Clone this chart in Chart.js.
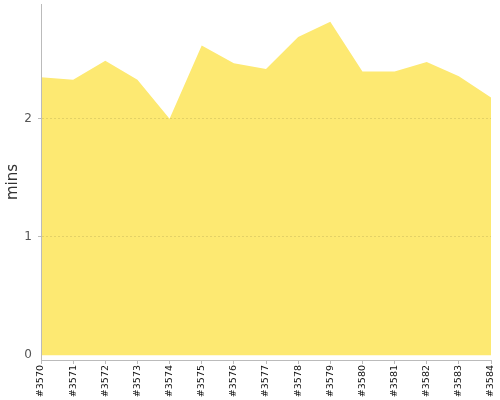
<!DOCTYPE html>
<html>
<head>
<meta charset="utf-8">
<script src="https://cdn.jsdelivr.net/npm/chart.js@4"></script>
<style>
  html, body { margin: 0; padding: 0; background: #fff; }
  #wrap { width: 500px; height: 400px; }
</style>
</head>
<body>
<div id="wrap"><canvas id="myChart"></canvas></div>
<script>
var builds = ['#3570', '#3571', '#3572', '#3573', '#3574', '#3575', '#3576', '#3577',
              '#3578', '#3579', '#3580', '#3581', '#3582', '#3583', '#3584'];
var durations = [2.35, 2.33, 2.49, 2.33, 2.00, 2.62, 2.47, 2.42,
                 2.69, 2.82, 2.40, 2.40, 2.48, 2.36, 2.18];
var yTicks = [0, 1, 2];

Chart.defaults.font.family = "'DejaVu Sans', sans-serif";

var ctx = document.getElementById('myChart').getContext('2d');
var myChart = new Chart(ctx, {
  type: 'line',
  data: {
    labels: builds,
    datasets: [{
      label: 'Duration',
      data: durations,
      fill: 'origin',
      backgroundColor: '#fde972',
      borderWidth: 0,
      pointRadius: 0,
      tension: 0
    }]
  },
  options: {
    responsive: true,
    maintainAspectRatio: false,
    animation: false,
    layout: { padding: { top: 4, right: 9, left: 0, bottom: 0 } },
    plugins: {
      legend: { display: false },
      tooltip: { enabled: false }
    },
    scales: {
      x: {
        offset: false,
        grid: { drawOnChartArea: false, drawTicks: true, tickLength: 4, color: '#bbb' },
        border: { color: '#bbb' },
        ticks: {
          color: '#111',
          font: { size: 9.5 },
          maxRotation: 90,
          minRotation: 90,
          autoSkip: false,
          padding: 1
        },
        afterFit: function (s) { s.paddingLeft = 0; s.paddingRight = 0; s.height = 40; }
      },
      y: {
        min: -0.04,
        max: 2.97,
        border: { color: '#bbb', dash: [2, 2], z: 1 },
        grid: {
          z: 1,
          color: function (c) { return c.tick && c.tick.value === 0 ? 'rgba(0,0,0,0)' : 'rgba(0,0,0,0.1)'; },
          tickColor: function (c) { return c.tick && c.tick.value === 0 ? 'rgba(0,0,0,0)' : '#bbb'; },
          tickBorderDash: [],
          tickLength: 3
        },
        ticks: {
          stepSize: 1,
          includeBounds: false,
          color: '#555',
          font: { size: 12 },
          padding: 6,
          callback: function (v) { return yTicks.indexOf(v) >= 0 ? String(v) : null; }
        },
        title: {
          display: true,
          text: 'mins',
          color: '#333',
          font: { size: 15 },
          padding: { top: 4, bottom: 0 }
        },
        afterFit: function (s) { s.paddingTop = 0; s.paddingBottom = 0; s.width = 41; }
      }
    }
  }
});
</script>
</body>
</html>
